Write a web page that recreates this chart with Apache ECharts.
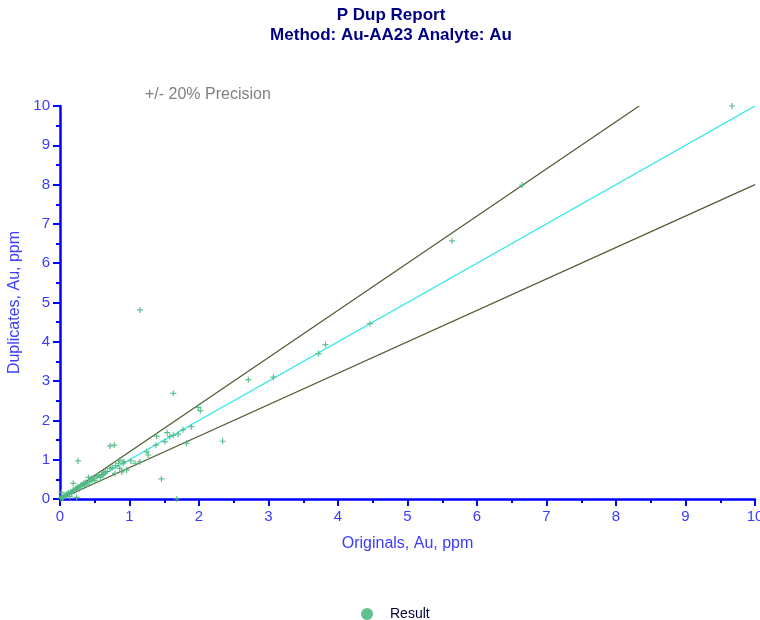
<!DOCTYPE html>
<html>
<head>
<meta charset="utf-8">
<script src="https://cdn.jsdelivr.net/npm/echarts@6/dist/echarts.min.js"></script>
<style>
  html, body { margin: 0; padding: 0; background: #fff; }
  #chart { width: 760px; height: 620px; }
</style>
</head>
<body>
<div id="chart"></div>
<script>
// original vs duplicate assays, Au ppm
var originals = [
  9.67, 6.65, 5.64, 4.46, 3.82, 3.72, 3.07, 2.71, 1.15, 1.63,
  1.99, 2.02, 2.34, 1.89, 1.77, 1.70, 1.63, 1.58, 1.54, 1.39,
  1.51, 1.38, 1.82, 1.46, 1.68, 0.72, 0.78, 0.26, 0.24, 1.25,
  1.27, 1.15, 1.08, 1.02, 0.86, 0.84, 0.86, 0.96, 0.65, 0.72,
  0.62, 0.91, 0.89, 0.79, 0.60, 0.53, 0.46, 0.41, 0.34, 0.26,
  0.19, 0.12, 0.05, 0.02, 0.14, 0.19, 0.30, 0.37, 0.45, 0.50,
  0.55, 0.68, 0.75, 0.80, 0.92, 0.06, 0.08, 0.10, 0.15, 0.22,
  0.28, 0.32, 0.39, 0.43, 0.48, 0.58, 0.63, 0.03, 0.04, 0.01,
  0.09, 0.17, 0.24, 0.35
];
var duplicates = [
  10.0, 7.99, 6.57, 4.46, 3.93, 3.70, 3.10, 3.04, 4.81, 2.69,
  2.33, 2.25, 1.47, 1.84, 1.76, 1.65, 1.62, 1.59, 1.69, 1.60,
  1.46, 1.37, 1.42, 0.51, 0.00, 1.35, 1.37, 0.97, 0.04, 1.20,
  1.12, 0.95, 0.91, 0.97, 0.99, 0.91, 0.78, 0.74, 0.69, 0.78,
  0.61, 0.91, 0.69, 0.65, 0.62, 0.57, 0.48, 0.55, 0.40, 0.31,
  0.23, 0.15, 0.06, 0.17, 0.06, 0.40, 0.35, 0.42, 0.52, 0.47,
  0.60, 0.70, 0.80, 0.85, 0.95, 0.09, 0.07, 0.12, 0.18, 0.25,
  0.26, 0.36, 0.38, 0.45, 0.53, 0.55, 0.66, 0.04, 0.02, 0.02,
  0.11, 0.14, 0.28, 0.33
];

// reference lines: +20%, 1:1, -20%
var upperLine = [[0, 0], [8.333, 10]];
var equalLine = [[0, 0], [10, 10]];
var lowerLine = [[0, 0], [10, 8]];

var axisTicks = [0, 1, 2, 3, 4, 5, 6, 7, 8, 9, 10];

var points = originals.map((x, i) => [x, duplicates[i]]);

var plus = 'path://M4,0H6V4H10V6H6V10H4V6H0V4H4Z';
var blue = '#0000ff';
var labelBlue = '#3c3cff';

function make_axis(name, gap, rotate)
{
    return {
        type: 'value',
        min: axisTicks[0],
        max: axisTicks[axisTicks.length - 1],
        interval: 1,
        name: name,
        nameLocation: 'middle',
        nameGap: gap,
        nameRotate: rotate,
        nameTextStyle: {color: labelBlue, fontSize: 16, fontFamily: 'Liberation Sans'},
        axisLine: {show: true, onZero: false, lineStyle: {color: blue, width: 2.5}},
        axisTick: {show: true, length: 7, lineStyle: {color: blue, width: 2}},
        minorTick: {show: true, splitNumber: 2, length: 4, lineStyle: {color: blue, width: 2}},
        axisLabel: {color: labelBlue, fontSize: 15, fontFamily: 'Liberation Sans', margin: 10},
        splitLine: {show: false},
        minorSplitLine: {show: false}
    };
}

var chart = echarts.init(document.getElementById('chart'));

chart.setOption({
    animation: false,
    title: {
        text: 'P Dup Report\nMethod: Au-AA23 Analyte: Au',
        left: 386,
        textAlign: 'center',
        top: 0,
        textStyle: {color: '#000080', fontSize: 17, fontWeight: 'bold',
                    fontFamily: 'Liberation Sans', lineHeight: 20}
    },
    graphic: [{
        type: 'text',
        left: 145,
        top: 87,
        style: {text: '+/- 20% Precision', fill: '#808080', fontSize: 16,
                fontFamily: 'Liberation Sans'}
    }],
    legend: {
        data: [{name: 'Result', icon: 'circle'}],
        left: 356,
        top: 602,
        itemWidth: 12,
        itemHeight: 12,
        textStyle: {color: '#000033', fontSize: 14, fontFamily: 'Liberation Sans',
                    padding: [0, 0, 0, 12]}
    },
    grid: {left: 60, right: 5, top: 106, bottom: 121, outerBoundsMode: 'none'},
    xAxis: make_axis('Originals, Au, ppm', 37, 0),
    yAxis: make_axis('Duplicates, Au, ppm', 35, 90),
    series: [
        {
            name: 'upper', type: 'line', data: upperLine, symbol: 'none',
            lineStyle: {color: '#4f5a33', width: 1.2}, z: 2
        },
        {
            name: 'equal', type: 'line', data: equalLine, symbol: 'none',
            lineStyle: {color: '#22e8ec', width: 1.2}, z: 2
        },
        {
            name: 'lower', type: 'line', data: lowerLine, symbol: 'none',
            lineStyle: {color: '#4f5a33', width: 1.2}, z: 2
        },
        {
            name: 'Result', type: 'scatter', data: points,
            symbol: plus, symbolSize: 6,
            itemStyle: {color: '#4fb982', opacity: 0.9}, z: 3
        }
    ]
});
</script>
</body>
</html>
